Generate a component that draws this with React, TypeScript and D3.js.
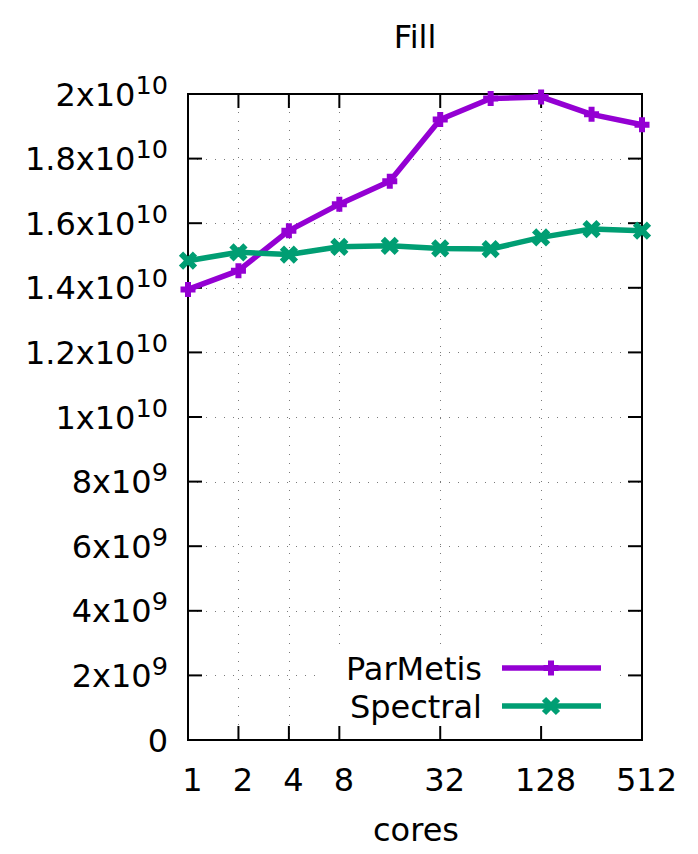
import React, { useEffect } from "react";
import * as d3 from "d3";

const cores = [1, 2, 4, 8, 16, 32, 64, 128, 256, 512];
const parmetis = [1.395e10, 1.453e10, 1.577e10, 1.659e10, 1.73e10, 1.921e10, 1.986e10, 1.991e10, 1.937e10, 1.905e10];
const spectral = [1.484e10, 1.51e10, 1.503e10, 1.527e10, 1.53e10, 1.522e10, 1.52e10, 1.556e10, 1.582e10, 1.577e10];
const xTicks = [1, 2, 4, 8, 32, 128, 512];
const yTicks = [0, 2e9, 4e9, 6e9, 8e9, 1e10, 1.2e10, 1.4e10, 1.6e10, 1.8e10, 2e10];
const seriesNames = ["ParMetis", "Spectral"];
const seriesColors = ["#9400d3", "#009e73"];
const title = "Fill";
const xLabel = "cores";

const W = 698, H = 854;
const L = 188, R = 642, T = 94, B = 740;
const FONT = "'DejaVu Sans', sans-serif";

function splitLabel(v: number): [string, string | null] {
  if (v === 0) return ["0", null];
  const e = Math.floor(Math.log10(v) + 1e-9);
  const m = +(v / Math.pow(10, e)).toFixed(3);
  return [`${m}x10`, String(e)];
}

const plusPath = "M-7.5,0H7.5M0,-7.5V7.5";
const crossPath = "M-7,-7L7,7M-7,7L7,-7";

export default function App() {
  useEffect(() => {
    document.body.style.margin = "0";
  }, []);
  const x = d3.scaleLog().base(2).domain([1, 512]).range([L, R]);
  const y = d3.scaleLinear().domain([0, 2e10]).range([B, T]);
  const line = d3
    .line<number>()
    .x((_, i) => x(cores[i]))
    .y((d) => y(d));
  const series = [parmetis, spectral];
  const markers = [plusPath, crossPath];
  const legendRows = [668, 706];

  return (
    <svg width={W} height={H} style={{ display: "block", background: "#fff" }} fontFamily={FONT}>
      <rect x={0} y={0} width={W} height={H} fill="#fff" />
      {/* grid */}
      <g stroke="#7a7a7a" strokeWidth={1} strokeDasharray="1,8" fill="none">
        {xTicks
          .filter((t) => t !== 1 && t !== 512)
          .map((t) => (
            <line key={"gx" + t} x1={Math.round(x(t)) + 0.5} x2={Math.round(x(t)) + 0.5} y1={T} y2={B} />
          ))}
        {yTicks
          .filter((t) => t !== 0 && t !== 2e10)
          .map((t) => (
            <line key={"gy" + t} x1={L} x2={R} y1={Math.round(y(t)) + 0.5} y2={Math.round(y(t)) + 0.5} />
          ))}
      </g>
      {/* opaque key box */}
      <rect x={315} y={650} width={305} height={B - 650} fill="#fff" />
      {/* ticks */}
      <g stroke="#000" strokeWidth={2}>
        {xTicks.map((t) => (
          <g key={"tx" + t}>
            <line x1={x(t)} x2={x(t)} y1={B} y2={B - 14} />
            <line x1={x(t)} x2={x(t)} y1={T} y2={T + 14} />
          </g>
        ))}
        {yTicks.map((t) => (
          <g key={"ty" + t}>
            <line x1={L} x2={L + 14} y1={y(t)} y2={y(t)} />
            <line x1={R} x2={R - 14} y1={y(t)} y2={y(t)} />
          </g>
        ))}
      </g>
      <rect x={L} y={T} width={R - L} height={B - T} fill="none" stroke="#000" strokeWidth={2} />
      {/* y labels */}
      <g fontSize={32} fill="#000">
        {yTicks.map((t) => {
          const [main, sup] = splitLabel(t);
          return (
            <text key={"ly" + t} x={168} y={y(t) + 11.5} textAnchor="end">
              {main}
              {sup && (
                <tspan fontSize={25.6} dy={-12}>
                  {sup}
                </tspan>
              )}
            </text>
          );
        })}
        {xTicks.map((t) => (
          <text key={"lx" + t} x={x(t) + 4.5} y={790.5} textAnchor="middle">
            {t}
          </text>
        ))}
        <text x={(L + R) / 2} y={48} textAnchor="middle">
          {title}
        </text>
        <text x={(L + R) / 2 + 1} y={841} textAnchor="middle">
          {xLabel}
        </text>
      </g>
      {/* data */}
      {series.map((s, si) => (
        <g key={"s" + si}>
          <path d={line(s) ?? ""} fill="none" stroke={seriesColors[si]} strokeWidth={5.5} strokeLinejoin="round" />
          {s.map((v, i) => (
            <path
              key={i}
              d={markers[si]}
              transform={`translate(${x(cores[i])},${y(v)})`}
              stroke={seriesColors[si]}
              strokeWidth={6}
              fill="none"
            />
          ))}
        </g>
      ))}
      {/* legend */}
      {seriesNames.map((name, si) => (
        <g key={"lg" + si}>
          <text x={482} y={legendRows[si] + 12} fontSize={32} textAnchor="end" fill="#000">
            {name}
          </text>
          <line x1={502} x2={601} y1={legendRows[si]} y2={legendRows[si]} stroke={seriesColors[si]} strokeWidth={5.5} />
          <path
            d={markers[si]}
            transform={`translate(551,${legendRows[si]})`}
            stroke={seriesColors[si]}
            strokeWidth={6}
            fill="none"
          />
        </g>
      ))}
    </svg>
  );
}
